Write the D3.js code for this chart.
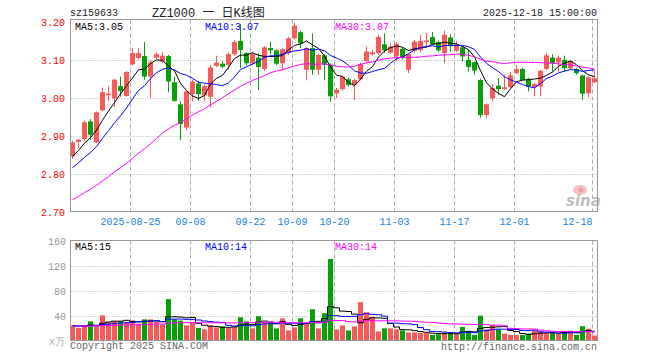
<!DOCTYPE html>
<html>
<head>
<meta charset="utf-8">
<script src="https://cdn.jsdelivr.net/npm/d3@7"></script>
<style>
  body { margin: 0; background: #fff; }
  svg { display: block; }
  text { font-family: "Liberation Mono", "DejaVu Sans Mono", monospace; font-size: 10px; }
</style>
</head>
<body>
<svg width="660" height="360"></svg>
<script>
// Trading days shown on the chart
const dates = [
  "2025-08-11","2025-08-12","2025-08-13","2025-08-14","2025-08-15","2025-08-18","2025-08-19","2025-08-20","2025-08-21","2025-08-22",
  "2025-08-25","2025-08-26","2025-08-27","2025-08-28","2025-08-29","2025-09-01","2025-09-02","2025-09-03","2025-09-04","2025-09-05",
  "2025-09-08","2025-09-09","2025-09-10","2025-09-11","2025-09-12","2025-09-15","2025-09-16","2025-09-17","2025-09-18","2025-09-19",
  "2025-09-22","2025-09-23","2025-09-24","2025-09-25","2025-09-26","2025-09-29","2025-09-30","2025-10-09","2025-10-10","2025-10-13",
  "2025-10-14","2025-10-15","2025-10-16","2025-10-17","2025-10-20","2025-10-21","2025-10-22","2025-10-23","2025-10-24","2025-10-27",
  "2025-10-28","2025-10-29","2025-10-30","2025-10-31","2025-11-03","2025-11-04","2025-11-05","2025-11-06","2025-11-07","2025-11-10",
  "2025-11-11","2025-11-12","2025-11-13","2025-11-14","2025-11-17","2025-11-18","2025-11-19","2025-11-20","2025-11-21","2025-11-24",
  "2025-11-25","2025-11-26","2025-11-27","2025-11-28","2025-12-01","2025-12-02","2025-12-03","2025-12-04","2025-12-05","2025-12-08",
  "2025-12-09","2025-12-10","2025-12-11","2025-12-12","2025-12-15","2025-12-16","2025-12-17","2025-12-18"
];

const open = [
  2.845,2.883,2.891,2.937,2.882,2.966,3.006,2.998,3.030,3.004,
  3.087,3.104,3.109,3.055,3.105,3.095,3.109,3.040,2.982,2.921,
  3.009,3.037,3.005,3.002,3.083,3.089,3.086,3.114,3.149,3.117,
  3.090,3.105,3.075,3.130,3.124,3.090,3.117,3.156,3.172,3.073,
  3.130,3.073,3.111,3.086,3.011,3.022,3.048,3.033,3.048,3.096,
  3.114,3.117,3.140,3.118,3.108,3.128,3.073,3.123,3.125,3.146,
  3.159,3.146,3.117,3.158,3.123,3.132,3.099,3.093,3.046,2.954,
  2.998,3.031,3.022,3.027,3.064,3.075,3.049,3.027,3.029,3.075,
  3.105,3.092,3.099,3.077,3.075,3.058,3.011,3.040
];
const high = [
  2.886,2.891,2.940,2.943,2.963,3.026,3.029,3.048,3.055,3.070,
  3.130,3.130,3.146,3.099,3.118,3.119,3.112,3.055,2.990,3.020,
  3.047,3.044,3.035,3.086,3.110,3.096,3.118,3.152,3.193,3.120,
  3.118,3.117,3.135,3.147,3.127,3.130,3.160,3.196,3.176,3.133,
  3.169,3.116,3.114,3.090,3.025,3.058,3.052,3.050,3.092,3.134,
  3.125,3.165,3.169,3.143,3.146,3.132,3.117,3.152,3.165,3.170,
  3.172,3.150,3.176,3.167,3.149,3.135,3.125,3.095,3.050,2.985,
  3.035,3.051,3.060,3.068,3.086,3.078,3.052,3.038,3.073,3.117,
  3.114,3.110,3.110,3.099,3.078,3.060,3.056,3.070
];
const low = [
  2.838,2.867,2.887,2.889,2.880,2.964,2.990,2.976,3.002,3.002,
  3.085,3.100,3.047,2.998,3.100,3.092,3.014,2.989,2.888,2.914,
  2.990,2.991,2.990,2.974,3.080,3.077,3.073,3.110,3.077,3.085,
  3.085,3.020,3.070,3.114,3.085,3.071,3.112,3.152,3.130,3.045,
  3.060,3.060,3.046,2.989,2.998,3.018,3.029,2.994,3.045,3.090,
  3.110,3.112,3.117,3.115,3.095,3.100,3.064,3.118,3.120,3.130,
  3.139,3.120,3.090,3.121,3.120,3.095,3.068,3.060,2.947,2.945,
  2.990,3.007,3.020,3.025,3.062,3.046,3.016,3.003,3.003,3.073,
  3.068,3.068,3.068,3.074,3.060,2.994,3.000,3.038
];
const close = [
  2.882,2.889,2.935,2.902,2.961,3.014,3.010,3.047,3.017,3.067,
  3.117,3.117,3.055,3.092,3.114,3.110,3.042,2.991,2.930,3.016,
  3.042,3.009,3.030,3.079,3.092,3.081,3.114,3.146,3.125,3.090,
  3.114,3.080,3.132,3.124,3.089,3.127,3.156,3.189,3.143,3.130,
  3.073,3.112,3.086,3.003,3.020,3.055,3.033,3.046,3.088,3.121,
  3.119,3.159,3.124,3.134,3.141,3.104,3.114,3.147,3.149,3.150,
  3.140,3.124,3.165,3.135,3.140,3.108,3.080,3.071,2.954,2.982,
  3.025,3.022,3.027,3.058,3.075,3.046,3.029,3.035,3.070,3.111,
  3.090,3.105,3.077,3.096,3.064,3.010,3.053,3.050
];
// volume in 万
const volume = [
  24.3,20,24.3,30.8,23,40.5,29.7,31.3,31,29.7,
  32,27,34,34,30,26,66.5,34,32,24.3,
  28.6,20,18,24.3,21,22.7,20,21.6,37.3,30.8,
  19.5,38.9,29.7,28.6,19.5,35.7,16.2,21,35.7,27.6,
  50.3,19.5,43.8,131,17.8,24.3,16.2,22.7,61.6,45.4,
  37.3,14.6,19.5,19.5,17.8,16.2,13,13,12,12,
  9,10,12,12,12,22,15,9,40,18,
  25,18,11,9,9,9,11,16,14,12,
  14,12,12,16,9,23,19,8
];
// the 29 sessions before the window, needed for the moving averages
const prevClose = [
  2.62,2.63,2.65,2.64,2.66,2.68,2.67,2.69,2.71,2.73,
  2.72,2.70,2.69,2.71,2.68,2.70,2.72,2.71,2.73,2.73,
  2.76,2.79,2.78,2.80,2.797,2.81,2.84,2.83,2.863
];
const prevVolume = [
  20,22,25,19,21,24,27,21,23,26,
  20,22,25,24,21,19,23,27,22,24,
  21,26,23,25,22,24,23,22,25
];

const priceTicks = [3.20, 3.10, 3.00, 2.90, 2.80, 2.70];
const volTicks = [160, 120, 80, 40];
const dateTicks = ["2025-08-25","2025-09-08","2025-09-22","2025-10-09","2025-10-20","2025-11-03","2025-11-17","2025-12-01","2025-12-18"];

const RED = "#f65a5a", GREEN = "#08a008", GRID = "#aaa";
const svg = d3.select("svg");
const n = dates.length;

const x = d3.scaleLinear().domain([0, n]).range([70, 70 + 6 * n]);
const y = d3.scaleLinear().domain([2.70, 3.20]).range([211.5, 21.5]);
const yv = d3.scaleLinear().domain([0, 160]).range([340.5, 241]);
const left = 70.5, right = 597.5;
const mainTop = 19.5, mainBottom = 211.5, volTop = 240.5, volBottom = 340.5;

function movingAvg(series, k) {
  return d3.range(n).map(i => d3.mean(series.slice(i + 29 - k + 1, i + 30)));
}
const allClose = prevClose.concat(close), allVol = prevVolume.concat(volume);
const ma = [5, 10, 30].map(k => movingAvg(allClose, k));
const vma = [5, 10, 30].map(k => movingAvg(allVol, k));
const maColors = ["#000", "#00f", "#f0f"];
const isUp = i => close[i] >= open[i];

// grid lines
const tickIdx = dateTicks.map(d => dates.indexOf(d));
[[mainTop, mainBottom], [volTop, volBottom]].forEach(([t, b]) => {
  svg.append("g").selectAll("line").data(tickIdx).join("line")
    .attr("x1", i => x(i) + 0.5).attr("x2", i => x(i) + 0.5)
    .attr("y1", t).attr("y2", b)
    .attr("stroke", GRID).attr("stroke-dasharray", "4,3");
});
svg.append("g").selectAll("line").data(priceTicks.slice(1, -1)).join("line")
  .attr("x1", left).attr("x2", right)
  .attr("y1", d => Math.round(y(d)) + 0.5).attr("y2", d => Math.round(y(d)) + 0.5)
  .attr("stroke", GRID).attr("stroke-dasharray", "1,2");
svg.append("g").selectAll("line").data(volTicks.slice(1)).join("line")
  .attr("x1", left).attr("x2", right)
  .attr("y1", d => Math.round(yv(d)) + 0.5).attr("y2", d => Math.round(yv(d)) + 0.5)
  .attr("stroke", GRID).attr("stroke-dasharray", "1,2");

// sina logo
const logo = svg.append("g");
logo.append("ellipse").attr("cx", 580).attr("cy", 190).attr("rx", 7).attr("ry", 5)
  .attr("fill", "#f7c0c0");
logo.append("circle").attr("cx", 581).attr("cy", 190).attr("r", 2.5).attr("fill", "#f39a9a");
logo.append("text").attr("x", 566).attr("y", 206)
  .style("font-family", "DejaVu Sans").style("font-size", "15px")
  .style("font-style", "italic").style("font-weight", "bold")
  .attr("fill", "#bdbdbd").text("sina");

// candles
const candles = svg.append("g").selectAll("g").data(d3.range(n)).join("g");
candles.append("line")
  .attr("x1", i => x(i) + 2.5).attr("x2", i => x(i) + 2.5)
  .attr("y1", i => y(high[i])).attr("y2", i => y(low[i]))
  .attr("stroke", i => isUp(i) ? RED : GREEN);
candles.append("rect")
  .attr("x", i => x(i)).attr("width", 5)
  .attr("y", i => y(Math.max(open[i], close[i])))
  .attr("height", i => Math.max(1, Math.abs(y(open[i]) - y(close[i]))))
  .attr("fill", i => isUp(i) ? RED : GREEN);

// volume bars
svg.append("g").selectAll("rect").data(d3.range(n)).join("rect")
  .attr("x", i => x(i)).attr("width", 5)
  .attr("y", i => yv(volume[i])).attr("height", i => yv(0) - yv(volume[i]))
  .attr("fill", i => isUp(i) ? RED : GREEN);

// moving averages
const priceLine = d3.line().x((d, i) => x(i) + 2.5).y(d => y(d));
const volLine = d3.line().x((d, i) => x(i) + 2.5).y(d => yv(d)).curve(d3.curveStep);
ma.forEach((s, k) => svg.append("path").attr("d", priceLine(s))
  .attr("fill", "none").attr("stroke", maColors[k]).attr("stroke-width", 1));
vma.forEach((s, k) => svg.append("path").attr("d", volLine(s))
  .attr("fill", "none").attr("stroke", maColors[k]).attr("stroke-width", 1));

// frames
svg.append("rect").attr("x", left).attr("y", mainTop).attr("width", right - left)
  .attr("height", mainBottom - mainTop).attr("fill", "none").attr("stroke", "#999");
svg.append("rect").attr("x", left).attr("y", volTop).attr("width", right - left)
  .attr("height", volBottom - volTop).attr("fill", "none").attr("stroke", "#999");

// axis labels
svg.append("g").selectAll("text").data(priceTicks).join("text")
  .attr("x", 65).attr("y", d => y(d) + 4).attr("text-anchor", "end")
  .attr("fill", "#f00").text(d => d.toFixed(2));
svg.append("g").selectAll("text").data(volTicks).join("text")
  .attr("x", 66).attr("y", d => yv(d) + 4).attr("text-anchor", "end")
  .attr("fill", "#999").text(d => d);
svg.append("text").attr("x", 49).attr("y", 345).attr("fill", "#aaa").text("x万");
// date labels sit centred on their grid line, the last one ends on it
svg.append("g").selectAll("text").data(dateTicks).join("text")
  .attr("x", d => x(dates.indexOf(d)) + 0.5).attr("y", 225)
  .attr("text-anchor", (d, i) => i === dateTicks.length - 1 ? "end" : "middle")
  .attr("fill", "#1a84d8").text((d, i) => i === 0 ? d : d.slice(5));

// MA legends
const maNames = ["MA5", "MA10", "MA30"], legendX = [75, 205, 335];
maNames.forEach((name, k) => {
  svg.append("text").attr("x", legendX[k]).attr("y", 30).attr("fill", maColors[k])
    .text(name + ":" + ma[k][n - 1].toFixed(2));
  svg.append("text").attr("x", legendX[k]).attr("y", 250).attr("fill", maColors[k])
    .text(name + ":" + Math.round(vma[k][n - 1]));
});

// titles
svg.append("text").attr("x", 70).attr("y", 16).attr("fill", "#222").text("sz159633");
svg.append("text").attr("x", 152).attr("y", 17).attr("fill", "#222")
  .style("font-size", "12px")
  .style("font-family", "'Liberation Mono', 'Noto Sans CJK SC', monospace")
  .text("ZZ1000 一 日K线图");
svg.append("text").attr("x", 597).attr("y", 16).attr("text-anchor", "end")
  .attr("fill", "#222").text("2025-12-18 15:00:00");
svg.append("text").attr("x", 70).attr("y", 349).attr("fill", "#666")
  .text("Copyright 2025 SINA.COM");
svg.append("text").attr("x", 597).attr("y", 350).attr("text-anchor", "end")
  .attr("fill", "#666").text("http://finance.sina.com.cn");
</script>
</body>
</html>
